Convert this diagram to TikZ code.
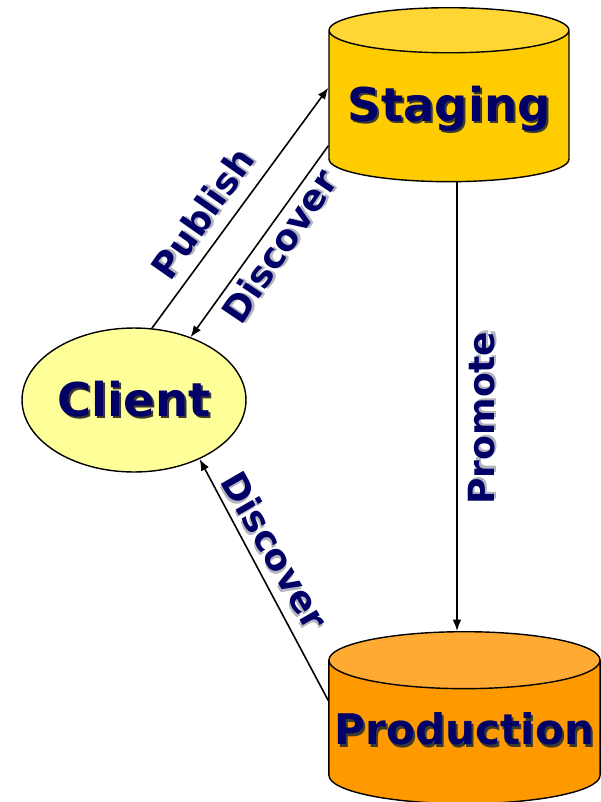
\documentclass[tikz,border=0pt]{standalone}
\usepackage{fontspec}
\setmainfont{DejaVu Sans}
\usetikzlibrary{shapes.geometric,arrows.meta,calc}
\definecolor{navytext}{HTML}{000066}
\definecolor{darkshadow}{HTML}{3A3A30}
\definecolor{lightshadow}{HTML}{B4B4BC}
\definecolor{stagebody}{HTML}{FFCC00}
\definecolor{stagetop}{HTML}{FFD633}
\definecolor{prodbody}{HTML}{FF9900}
\definecolor{prodtop}{HTML}{FFAA33}
\definecolor{clientfill}{HTML}{FFFF99}
\newcommand{\shtext}[2]{\makebox[0pt][l]{\hspace{1.2pt}\raisebox{-1.2pt}{\color{#1}#2}}#2}
\newcommand{\drawstore}{\node[draw,cylinder,shape border rotate=90,aspect=0.21,anchor=north,line width=0.8pt,cylinder uses custom fill,text=navytext]}
\newcommand{\drawclient}{\node[draw,ellipse,inner sep=0,line width=0.8pt,fill=clientfill,text=navytext,font=\bfseries\fontsize{26.5}{30}\selectfont,minimum width=4.48cm,minimum height=2.88cm]}
\newcommand{\drawlabel}{\node[text=navytext,font=\bfseries\fontsize{20.5}{24}\selectfont,inner sep=0]}

\begin{document}
\begin{tikzpicture}[x=0.02cm,y=-0.02cm]
\useasboundingbox (0,0) rectangle (601,802);
%stores and client
\drawstore[cylinder body fill=stagebody,cylinder end fill=stagetop,minimum width=4.8cm,minimum height=3.48cm,font=\bfseries\fontsize{26.5}{30}\selectfont] (stg) at (449,7) {\shtext{darkshadow}{Staging}};
\drawstore[cylinder body fill=prodbody,cylinder end fill=prodtop,minimum width=5.42cm,minimum height=3.44cm,font=\bfseries\fontsize{24}{28}\selectfont] (prd) at (464.5,631) {\raisebox{0pt}[\height][\dimexpr\depth+7pt]{\shtext{darkshadow}{Production}}};
\drawclient (cli) at (134,400) {\shtext{darkshadow}{Client}};

%labels
\drawlabel[rotate=55] (pub) at (203,214) {\shtext{lightshadow}{Publish}};
\drawlabel[rotate=56] (dis1) at (280,247) {\shtext{lightshadow}{Discover}};
\drawlabel[rotate=90] (pro) at (483,418) {\shtext{lightshadow}{Promote}};
\drawlabel[rotate=-60] (dis2) at (274,551) {\shtext{lightshadow}{Discover}};

%connectors
\coordinate (promStart) at ($(stg.south)+(8,0)$);
\draw[-{Latex[length=6.5pt,width=5pt]},line width=0.9pt] (cli.76) to ($(stg.west)+(0,-22)$);
\draw[-{Latex[length=6.5pt,width=5pt]},line width=0.9pt] ($(stg.west)+(0,36)$) to (cli.48);
\draw[-{Latex[length=6.5pt,width=5pt]},line width=0.9pt] (promStart) to (promStart |- prd.north);
\draw[-{Latex[length=6.5pt,width=5pt]},line width=0.9pt] ($(prd.west)+(0,-36)$) to (cli.-42);
\end{tikzpicture}
\end{document}
